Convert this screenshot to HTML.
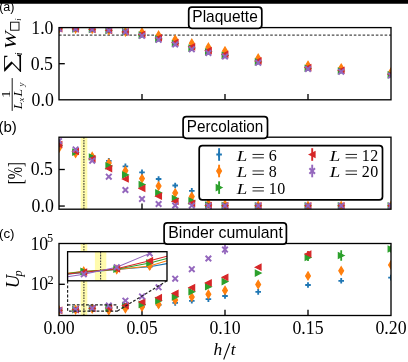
<!DOCTYPE html><html><head><meta charset="utf-8"><style>html,body{margin:0;padding:0;background:#fff;width:408px;height:362px;overflow:hidden}svg{display:block;will-change:transform}</style></head><body>
<svg width="408" height="362" viewBox="0 0 408 362">
<rect width="408" height="362" fill="#fff"/>
<defs>
<clipPath id="ca"><rect x="59.0" y="27.6" width="332.0" height="72.19999999999999"/></clipPath>
<clipPath id="cb"><rect x="59.0" y="137.2" width="332.0" height="72.0"/></clipPath>
<clipPath id="cc"><rect x="59.0" y="243.5" width="332.0" height="72.0"/></clipPath>
<clipPath id="ci"><rect x="67.6" y="251.7" width="99.4" height="29.100000000000023"/></clipPath>
</defs>
<line x1="59.0" y1="35.05" x2="391.0" y2="35.05" stroke="#4a4a4a" stroke-width="1.35" stroke-dasharray="2.6 1.8"/>
<line x1="142.00" y1="99.8" x2="142.00" y2="94.0" stroke="#000" stroke-width="1.33"/><line x1="225.00" y1="99.8" x2="225.00" y2="94.0" stroke="#000" stroke-width="1.33"/><line x1="308.00" y1="99.8" x2="308.00" y2="94.0" stroke="#000" stroke-width="1.33"/><line x1="59.0" y1="63.7" x2="64.8" y2="63.7" stroke="#000" stroke-width="1.33"/>
<g clip-path="url(#ca)">
<path d="M56.20 27.80H61.80M59.00 25.00V30.60" stroke="#1f77b4" stroke-width="1.84" fill="none"/>
<path d="M72.80 28.00H78.40M75.60 25.20V30.80" stroke="#1f77b4" stroke-width="1.84" fill="none"/>
<path d="M89.40 28.60H95.00M92.20 25.80V31.40" stroke="#1f77b4" stroke-width="1.84" fill="none"/>
<path d="M106.00 29.30H111.60M108.80 26.50V32.10" stroke="#1f77b4" stroke-width="1.84" fill="none"/>
<path d="M122.60 30.90H128.20M125.40 28.10V33.70" stroke="#1f77b4" stroke-width="1.84" fill="none"/>
<path d="M139.20 34.80H144.80M142.00 32.00V37.60" stroke="#1f77b4" stroke-width="1.84" fill="none"/>
<path d="M155.80 38.80H161.40M158.60 36.00V41.60" stroke="#1f77b4" stroke-width="1.84" fill="none"/>
<path d="M172.40 43.50H178.00M175.20 40.70V46.30" stroke="#1f77b4" stroke-width="1.84" fill="none"/>
<path d="M189.00 48.30H194.60M191.80 45.50V51.10" stroke="#1f77b4" stroke-width="1.84" fill="none"/>
<path d="M205.60 52.00H211.20M208.40 49.20V54.80" stroke="#1f77b4" stroke-width="1.84" fill="none"/>
<path d="M222.20 55.50H227.80M225.00 52.70V58.30" stroke="#1f77b4" stroke-width="1.84" fill="none"/>
<path d="M255.40 61.80H261.00M258.20 59.00V64.60" stroke="#1f77b4" stroke-width="1.84" fill="none"/>
<path d="M305.20 68.00H310.80M308.00 65.20V70.80" stroke="#1f77b4" stroke-width="1.84" fill="none"/>
<path d="M338.40 70.70H344.00M341.20 67.90V73.50" stroke="#1f77b4" stroke-width="1.84" fill="none"/>
<path d="M388.20 74.50H393.80M391.00 71.70V77.30" stroke="#1f77b4" stroke-width="1.84" fill="none"/>
<path d="M59.00 24.64L61.37 28.60L59.00 32.56L56.63 28.60Z" fill="#ff7f0e" stroke="#ff7f0e" stroke-width="1.28" stroke-linejoin="miter"/>
<path d="M75.60 24.84L77.97 28.80L75.60 32.76L73.23 28.80Z" fill="#ff7f0e" stroke="#ff7f0e" stroke-width="1.28" stroke-linejoin="miter"/>
<path d="M92.20 25.04L94.57 29.00L92.20 32.96L89.83 29.00Z" fill="#ff7f0e" stroke="#ff7f0e" stroke-width="1.28" stroke-linejoin="miter"/>
<path d="M108.80 26.34L111.17 30.30L108.80 34.26L106.43 30.30Z" fill="#ff7f0e" stroke="#ff7f0e" stroke-width="1.28" stroke-linejoin="miter"/>
<path d="M125.40 27.94L127.77 31.90L125.40 35.86L123.03 31.90Z" fill="#ff7f0e" stroke="#ff7f0e" stroke-width="1.28" stroke-linejoin="miter"/>
<path d="M142.00 28.34L144.37 32.30L142.00 36.26L139.63 32.30Z" fill="#ff7f0e" stroke="#ff7f0e" stroke-width="1.28" stroke-linejoin="miter"/>
<path d="M158.60 31.24L160.97 35.20L158.60 39.16L156.23 35.20Z" fill="#ff7f0e" stroke="#ff7f0e" stroke-width="1.28" stroke-linejoin="miter"/>
<path d="M175.20 35.54L177.57 39.50L175.20 43.46L172.83 39.50Z" fill="#ff7f0e" stroke="#ff7f0e" stroke-width="1.28" stroke-linejoin="miter"/>
<path d="M191.80 39.24L194.17 43.20L191.80 47.16L189.43 43.20Z" fill="#ff7f0e" stroke="#ff7f0e" stroke-width="1.28" stroke-linejoin="miter"/>
<path d="M208.40 43.24L210.77 47.20L208.40 51.16L206.03 47.20Z" fill="#ff7f0e" stroke="#ff7f0e" stroke-width="1.28" stroke-linejoin="miter"/>
<path d="M225.00 47.04L227.37 51.00L225.00 54.96L222.63 51.00Z" fill="#ff7f0e" stroke="#ff7f0e" stroke-width="1.28" stroke-linejoin="miter"/>
<path d="M258.20 54.24L260.57 58.20L258.20 62.16L255.83 58.20Z" fill="#ff7f0e" stroke="#ff7f0e" stroke-width="1.28" stroke-linejoin="miter"/>
<path d="M308.00 61.44L310.37 65.40L308.00 69.36L305.63 65.40Z" fill="#ff7f0e" stroke="#ff7f0e" stroke-width="1.28" stroke-linejoin="miter"/>
<path d="M341.20 64.14L343.57 68.10L341.20 72.06L338.83 68.10Z" fill="#ff7f0e" stroke="#ff7f0e" stroke-width="1.28" stroke-linejoin="miter"/>
<path d="M391.00 68.24L393.37 72.20L391.00 76.16L388.63 72.20Z" fill="#ff7f0e" stroke="#ff7f0e" stroke-width="1.28" stroke-linejoin="miter"/>
<path d="M61.80 28.76L56.20 25.96L56.20 31.56Z" fill="#2ca02c" stroke="#2ca02c" stroke-width="1.28" stroke-linejoin="miter"/>
<path d="M78.40 28.96L72.80 26.16L72.80 31.76Z" fill="#2ca02c" stroke="#2ca02c" stroke-width="1.28" stroke-linejoin="miter"/>
<path d="M95.00 29.48L89.40 26.68L89.40 32.28Z" fill="#2ca02c" stroke="#2ca02c" stroke-width="1.28" stroke-linejoin="miter"/>
<path d="M111.60 30.30L106.00 27.50L106.00 33.10Z" fill="#2ca02c" stroke="#2ca02c" stroke-width="1.28" stroke-linejoin="miter"/>
<path d="M128.20 31.90L122.60 29.10L122.60 34.70Z" fill="#2ca02c" stroke="#2ca02c" stroke-width="1.28" stroke-linejoin="miter"/>
<path d="M144.80 35.10L139.20 32.30L139.20 37.90Z" fill="#2ca02c" stroke="#2ca02c" stroke-width="1.28" stroke-linejoin="miter"/>
<path d="M161.40 38.88L155.80 36.08L155.80 41.68Z" fill="#2ca02c" stroke="#2ca02c" stroke-width="1.28" stroke-linejoin="miter"/>
<path d="M178.00 43.50L172.40 40.70L172.40 46.30Z" fill="#2ca02c" stroke="#2ca02c" stroke-width="1.28" stroke-linejoin="miter"/>
<path d="M194.60 48.08L189.00 45.28L189.00 50.88Z" fill="#2ca02c" stroke="#2ca02c" stroke-width="1.28" stroke-linejoin="miter"/>
<path d="M211.20 51.84L205.60 49.04L205.60 54.64Z" fill="#2ca02c" stroke="#2ca02c" stroke-width="1.28" stroke-linejoin="miter"/>
<path d="M227.80 55.40L222.20 52.60L222.20 58.20Z" fill="#2ca02c" stroke="#2ca02c" stroke-width="1.28" stroke-linejoin="miter"/>
<path d="M261.00 61.88L255.40 59.08L255.40 64.68Z" fill="#2ca02c" stroke="#2ca02c" stroke-width="1.28" stroke-linejoin="miter"/>
<path d="M310.80 68.28L305.20 65.48L305.20 71.08Z" fill="#2ca02c" stroke="#2ca02c" stroke-width="1.28" stroke-linejoin="miter"/>
<path d="M344.00 70.98L338.40 68.18L338.40 73.78Z" fill="#2ca02c" stroke="#2ca02c" stroke-width="1.28" stroke-linejoin="miter"/>
<path d="M393.80 74.84L388.20 72.04L388.20 77.64Z" fill="#2ca02c" stroke="#2ca02c" stroke-width="1.28" stroke-linejoin="miter"/>
<path d="M56.20 28.72L61.80 25.92L61.80 31.52Z" fill="#d62728" stroke="#d62728" stroke-width="1.28" stroke-linejoin="miter"/>
<path d="M72.80 28.92L78.40 26.12L78.40 31.72Z" fill="#d62728" stroke="#d62728" stroke-width="1.28" stroke-linejoin="miter"/>
<path d="M89.40 29.36L95.00 26.56L95.00 32.16Z" fill="#d62728" stroke="#d62728" stroke-width="1.28" stroke-linejoin="miter"/>
<path d="M106.00 30.30L111.60 27.50L111.60 33.10Z" fill="#d62728" stroke="#d62728" stroke-width="1.28" stroke-linejoin="miter"/>
<path d="M122.60 31.90L128.20 29.10L128.20 34.70Z" fill="#d62728" stroke="#d62728" stroke-width="1.28" stroke-linejoin="miter"/>
<path d="M139.20 34.40L144.80 31.60L144.80 37.20Z" fill="#d62728" stroke="#d62728" stroke-width="1.28" stroke-linejoin="miter"/>
<path d="M155.80 37.96L161.40 35.16L161.40 40.76Z" fill="#d62728" stroke="#d62728" stroke-width="1.28" stroke-linejoin="miter"/>
<path d="M172.40 42.50L178.00 39.70L178.00 45.30Z" fill="#d62728" stroke="#d62728" stroke-width="1.28" stroke-linejoin="miter"/>
<path d="M189.00 46.86L194.60 44.06L194.60 49.66Z" fill="#d62728" stroke="#d62728" stroke-width="1.28" stroke-linejoin="miter"/>
<path d="M205.60 50.68L211.20 47.88L211.20 53.48Z" fill="#d62728" stroke="#d62728" stroke-width="1.28" stroke-linejoin="miter"/>
<path d="M222.20 54.30L227.80 51.50L227.80 57.10Z" fill="#d62728" stroke="#d62728" stroke-width="1.28" stroke-linejoin="miter"/>
<path d="M255.40 60.96L261.00 58.16L261.00 63.76Z" fill="#d62728" stroke="#d62728" stroke-width="1.28" stroke-linejoin="miter"/>
<path d="M305.20 67.56L310.80 64.76L310.80 70.36Z" fill="#d62728" stroke="#d62728" stroke-width="1.28" stroke-linejoin="miter"/>
<path d="M338.40 70.26L344.00 67.46L344.00 73.06Z" fill="#d62728" stroke="#d62728" stroke-width="1.28" stroke-linejoin="miter"/>
<path d="M388.20 74.18L393.80 71.38L393.80 76.98Z" fill="#d62728" stroke="#d62728" stroke-width="1.28" stroke-linejoin="miter"/>
<path d="M56.20 26.00L61.80 31.60M56.20 31.60L61.80 26.00" stroke="#9467bd" stroke-width="1.92" fill="none"/>
<path d="M72.80 26.20L78.40 31.80M72.80 31.80L78.40 26.20" stroke="#9467bd" stroke-width="1.92" fill="none"/>
<path d="M89.40 26.80L95.00 32.40M89.40 32.40L95.00 26.80" stroke="#9467bd" stroke-width="1.92" fill="none"/>
<path d="M106.00 27.50L111.60 33.10M106.00 33.10L111.60 27.50" stroke="#9467bd" stroke-width="1.92" fill="none"/>
<path d="M122.60 29.10L128.20 34.70M122.60 34.70L128.20 29.10" stroke="#9467bd" stroke-width="1.92" fill="none"/>
<path d="M139.20 33.00L144.80 38.60M139.20 38.60L144.80 33.00" stroke="#9467bd" stroke-width="1.92" fill="none"/>
<path d="M155.80 37.00L161.40 42.60M155.80 42.60L161.40 37.00" stroke="#9467bd" stroke-width="1.92" fill="none"/>
<path d="M172.40 41.70L178.00 47.30M172.40 47.30L178.00 41.70" stroke="#9467bd" stroke-width="1.92" fill="none"/>
<path d="M189.00 46.50L194.60 52.10M189.00 52.10L194.60 46.50" stroke="#9467bd" stroke-width="1.92" fill="none"/>
<path d="M205.60 50.20L211.20 55.80M205.60 55.80L211.20 50.20" stroke="#9467bd" stroke-width="1.92" fill="none"/>
<path d="M222.20 53.70L227.80 59.30M222.20 59.30L227.80 53.70" stroke="#9467bd" stroke-width="1.92" fill="none"/>
<path d="M255.40 60.00L261.00 65.60M255.40 65.60L261.00 60.00" stroke="#9467bd" stroke-width="1.92" fill="none"/>
<path d="M305.20 66.20L310.80 71.80M305.20 71.80L310.80 66.20" stroke="#9467bd" stroke-width="1.92" fill="none"/>
<path d="M338.40 68.90L344.00 74.50M338.40 74.50L344.00 68.90" stroke="#9467bd" stroke-width="1.92" fill="none"/>
<path d="M388.20 72.70L393.80 78.30M388.20 78.30L393.80 72.70" stroke="#9467bd" stroke-width="1.92" fill="none"/>
</g>
<rect x="59.0" y="27.6" width="332.0" height="72.19999999999999" fill="none" stroke="#000" stroke-width="1.33"/>
<rect x="80.7" y="137.2" width="6.6" height="72.0" fill="#fffbad"/>
<line x1="83.9" y1="137.2" x2="83.9" y2="209.2" stroke="#4a4a3a" stroke-width="1.2" stroke-dasharray="1.6 1.1"/>
<line x1="142.00" y1="209.2" x2="142.00" y2="203.39999999999998" stroke="#000" stroke-width="1.33"/><line x1="225.00" y1="209.2" x2="225.00" y2="203.39999999999998" stroke="#000" stroke-width="1.33"/><line x1="308.00" y1="209.2" x2="308.00" y2="203.39999999999998" stroke="#000" stroke-width="1.33"/><line x1="59.0" y1="169.5" x2="64.8" y2="169.5" stroke="#000" stroke-width="1.33"/><line x1="59.0" y1="206.05" x2="64.8" y2="206.05" stroke="#000" stroke-width="1.33"/>
<g clip-path="url(#cb)">
<path d="M56.20 146.00H61.80M59.00 143.20V148.80" stroke="#1f77b4" stroke-width="1.84" fill="none"/>
<path d="M72.80 153.00H78.40M75.60 150.20V155.80" stroke="#1f77b4" stroke-width="1.84" fill="none"/>
<path d="M89.40 156.00H95.00M92.20 153.20V158.80" stroke="#1f77b4" stroke-width="1.84" fill="none"/>
<path d="M106.00 160.80H111.60M108.80 158.00V163.60" stroke="#1f77b4" stroke-width="1.84" fill="none"/>
<path d="M122.60 166.30H128.20M125.40 163.50V169.10" stroke="#1f77b4" stroke-width="1.84" fill="none"/>
<path d="M139.20 172.40H144.80M142.00 169.60V175.20" stroke="#1f77b4" stroke-width="1.84" fill="none"/>
<path d="M155.80 179.00H161.40M158.60 176.20V181.80" stroke="#1f77b4" stroke-width="1.84" fill="none"/>
<path d="M172.40 185.50H178.00M175.20 182.70V188.30" stroke="#1f77b4" stroke-width="1.84" fill="none"/>
<path d="M189.00 190.90H194.60M191.80 188.10V193.70" stroke="#1f77b4" stroke-width="1.84" fill="none"/>
<path d="M205.60 197.00H211.20M208.40 194.20V199.80" stroke="#1f77b4" stroke-width="1.84" fill="none"/>
<path d="M222.20 197.00H227.80M225.00 194.20V199.80" stroke="#1f77b4" stroke-width="1.84" fill="none"/>
<path d="M255.40 205.00H261.00M258.20 202.20V207.80" stroke="#1f77b4" stroke-width="1.84" fill="none"/>
<path d="M305.20 205.80H310.80M308.00 203.00V208.60" stroke="#1f77b4" stroke-width="1.84" fill="none"/>
<path d="M338.40 205.80H344.00M341.20 203.00V208.60" stroke="#1f77b4" stroke-width="1.84" fill="none"/>
<path d="M388.20 205.80H393.80M391.00 203.00V208.60" stroke="#1f77b4" stroke-width="1.84" fill="none"/>
<path d="M59.00 144.04L61.37 148.00L59.00 151.96L56.63 148.00Z" fill="#ff7f0e" stroke="#ff7f0e" stroke-width="1.28" stroke-linejoin="miter"/>
<path d="M75.60 149.44L77.97 153.40L75.60 157.36L73.23 153.40Z" fill="#ff7f0e" stroke="#ff7f0e" stroke-width="1.28" stroke-linejoin="miter"/>
<path d="M92.20 152.54L94.57 156.50L92.20 160.46L89.83 156.50Z" fill="#ff7f0e" stroke="#ff7f0e" stroke-width="1.28" stroke-linejoin="miter"/>
<path d="M108.80 159.14L111.17 163.10L108.80 167.06L106.43 163.10Z" fill="#ff7f0e" stroke="#ff7f0e" stroke-width="1.28" stroke-linejoin="miter"/>
<path d="M125.40 166.74L127.77 170.70L125.40 174.66L123.03 170.70Z" fill="#ff7f0e" stroke="#ff7f0e" stroke-width="1.28" stroke-linejoin="miter"/>
<path d="M142.00 174.64L144.37 178.60L142.00 182.56L139.63 178.60Z" fill="#ff7f0e" stroke="#ff7f0e" stroke-width="1.28" stroke-linejoin="miter"/>
<path d="M158.60 182.04L160.97 186.00L158.60 189.96L156.23 186.00Z" fill="#ff7f0e" stroke="#ff7f0e" stroke-width="1.28" stroke-linejoin="miter"/>
<path d="M175.20 188.94L177.57 192.90L175.20 196.86L172.83 192.90Z" fill="#ff7f0e" stroke="#ff7f0e" stroke-width="1.28" stroke-linejoin="miter"/>
<path d="M191.80 192.54L194.17 196.50L191.80 200.46L189.43 196.50Z" fill="#ff7f0e" stroke="#ff7f0e" stroke-width="1.28" stroke-linejoin="miter"/>
<path d="M208.40 199.54L210.77 203.50L208.40 207.46L206.03 203.50Z" fill="#ff7f0e" stroke="#ff7f0e" stroke-width="1.28" stroke-linejoin="miter"/>
<path d="M225.00 200.54L227.37 204.50L225.00 208.46L222.63 204.50Z" fill="#ff7f0e" stroke="#ff7f0e" stroke-width="1.28" stroke-linejoin="miter"/>
<path d="M258.20 201.54L260.57 205.50L258.20 209.46L255.83 205.50Z" fill="#ff7f0e" stroke="#ff7f0e" stroke-width="1.28" stroke-linejoin="miter"/>
<path d="M308.00 201.84L310.37 205.80L308.00 209.76L305.63 205.80Z" fill="#ff7f0e" stroke="#ff7f0e" stroke-width="1.28" stroke-linejoin="miter"/>
<path d="M341.20 201.84L343.57 205.80L341.20 209.76L338.83 205.80Z" fill="#ff7f0e" stroke="#ff7f0e" stroke-width="1.28" stroke-linejoin="miter"/>
<path d="M391.00 201.84L393.37 205.80L391.00 209.76L388.63 205.80Z" fill="#ff7f0e" stroke="#ff7f0e" stroke-width="1.28" stroke-linejoin="miter"/>
<path d="M61.80 145.50L56.20 142.70L56.20 148.30Z" fill="#2ca02c" stroke="#2ca02c" stroke-width="1.28" stroke-linejoin="miter"/>
<path d="M78.40 152.20L72.80 149.40L72.80 155.00Z" fill="#2ca02c" stroke="#2ca02c" stroke-width="1.28" stroke-linejoin="miter"/>
<path d="M95.00 157.00L89.40 154.20L89.40 159.80Z" fill="#2ca02c" stroke="#2ca02c" stroke-width="1.28" stroke-linejoin="miter"/>
<path d="M111.60 165.90L106.00 163.10L106.00 168.70Z" fill="#2ca02c" stroke="#2ca02c" stroke-width="1.28" stroke-linejoin="miter"/>
<path d="M128.20 174.90L122.60 172.10L122.60 177.70Z" fill="#2ca02c" stroke="#2ca02c" stroke-width="1.28" stroke-linejoin="miter"/>
<path d="M144.80 184.50L139.20 181.70L139.20 187.30Z" fill="#2ca02c" stroke="#2ca02c" stroke-width="1.28" stroke-linejoin="miter"/>
<path d="M161.40 192.90L155.80 190.10L155.80 195.70Z" fill="#2ca02c" stroke="#2ca02c" stroke-width="1.28" stroke-linejoin="miter"/>
<path d="M178.00 198.50L172.40 195.70L172.40 201.30Z" fill="#2ca02c" stroke="#2ca02c" stroke-width="1.28" stroke-linejoin="miter"/>
<path d="M194.60 200.90L189.00 198.10L189.00 203.70Z" fill="#2ca02c" stroke="#2ca02c" stroke-width="1.28" stroke-linejoin="miter"/>
<path d="M211.20 205.00L205.60 202.20L205.60 207.80Z" fill="#2ca02c" stroke="#2ca02c" stroke-width="1.28" stroke-linejoin="miter"/>
<path d="M227.80 205.50L222.20 202.70L222.20 208.30Z" fill="#2ca02c" stroke="#2ca02c" stroke-width="1.28" stroke-linejoin="miter"/>
<path d="M261.00 205.80L255.40 203.00L255.40 208.60Z" fill="#2ca02c" stroke="#2ca02c" stroke-width="1.28" stroke-linejoin="miter"/>
<path d="M310.80 205.80L305.20 203.00L305.20 208.60Z" fill="#2ca02c" stroke="#2ca02c" stroke-width="1.28" stroke-linejoin="miter"/>
<path d="M344.00 205.80L338.40 203.00L338.40 208.60Z" fill="#2ca02c" stroke="#2ca02c" stroke-width="1.28" stroke-linejoin="miter"/>
<path d="M393.80 205.80L388.20 203.00L388.20 208.60Z" fill="#2ca02c" stroke="#2ca02c" stroke-width="1.28" stroke-linejoin="miter"/>
<path d="M56.20 144.50L61.80 141.70L61.80 147.30Z" fill="#d62728" stroke="#d62728" stroke-width="1.28" stroke-linejoin="miter"/>
<path d="M72.80 151.40L78.40 148.60L78.40 154.20Z" fill="#d62728" stroke="#d62728" stroke-width="1.28" stroke-linejoin="miter"/>
<path d="M89.40 158.90L95.00 156.10L95.00 161.70Z" fill="#d62728" stroke="#d62728" stroke-width="1.28" stroke-linejoin="miter"/>
<path d="M106.00 168.60L111.60 165.80L111.60 171.40Z" fill="#d62728" stroke="#d62728" stroke-width="1.28" stroke-linejoin="miter"/>
<path d="M122.60 179.00L128.20 176.20L128.20 181.80Z" fill="#d62728" stroke="#d62728" stroke-width="1.28" stroke-linejoin="miter"/>
<path d="M139.20 188.40L144.80 185.60L144.80 191.20Z" fill="#d62728" stroke="#d62728" stroke-width="1.28" stroke-linejoin="miter"/>
<path d="M155.80 196.20L161.40 193.40L161.40 199.00Z" fill="#d62728" stroke="#d62728" stroke-width="1.28" stroke-linejoin="miter"/>
<path d="M172.40 201.40L178.00 198.60L178.00 204.20Z" fill="#d62728" stroke="#d62728" stroke-width="1.28" stroke-linejoin="miter"/>
<path d="M189.00 203.40L194.60 200.60L194.60 206.20Z" fill="#d62728" stroke="#d62728" stroke-width="1.28" stroke-linejoin="miter"/>
<path d="M205.60 205.50L211.20 202.70L211.20 208.30Z" fill="#d62728" stroke="#d62728" stroke-width="1.28" stroke-linejoin="miter"/>
<path d="M222.20 205.70L227.80 202.90L227.80 208.50Z" fill="#d62728" stroke="#d62728" stroke-width="1.28" stroke-linejoin="miter"/>
<path d="M255.40 205.80L261.00 203.00L261.00 208.60Z" fill="#d62728" stroke="#d62728" stroke-width="1.28" stroke-linejoin="miter"/>
<path d="M305.20 205.80L310.80 203.00L310.80 208.60Z" fill="#d62728" stroke="#d62728" stroke-width="1.28" stroke-linejoin="miter"/>
<path d="M338.40 205.80L344.00 203.00L344.00 208.60Z" fill="#d62728" stroke="#d62728" stroke-width="1.28" stroke-linejoin="miter"/>
<path d="M388.20 205.80L393.80 203.00L393.80 208.60Z" fill="#d62728" stroke="#d62728" stroke-width="1.28" stroke-linejoin="miter"/>
<path d="M56.20 138.20L61.80 143.80M56.20 143.80L61.80 138.20" stroke="#9467bd" stroke-width="1.92" fill="none"/>
<path d="M72.80 146.60L78.40 152.20M72.80 152.20L78.40 146.60" stroke="#9467bd" stroke-width="1.92" fill="none"/>
<path d="M89.40 157.90L95.00 163.50M89.40 163.50L95.00 157.90" stroke="#9467bd" stroke-width="1.92" fill="none"/>
<path d="M106.00 173.90L111.60 179.50M106.00 179.50L111.60 173.90" stroke="#9467bd" stroke-width="1.92" fill="none"/>
<path d="M122.60 187.20L128.20 192.80M122.60 192.80L128.20 187.20" stroke="#9467bd" stroke-width="1.92" fill="none"/>
<path d="M139.20 196.20L144.80 201.80M139.20 201.80L144.80 196.20" stroke="#9467bd" stroke-width="1.92" fill="none"/>
<path d="M155.80 201.20L161.40 206.80M155.80 206.80L161.40 201.20" stroke="#9467bd" stroke-width="1.92" fill="none"/>
<path d="M172.40 202.70L178.00 208.30M172.40 208.30L178.00 202.70" stroke="#9467bd" stroke-width="1.92" fill="none"/>
<path d="M189.00 202.80L194.60 208.40M189.00 208.40L194.60 202.80" stroke="#9467bd" stroke-width="1.92" fill="none"/>
<path d="M205.60 203.00L211.20 208.60M205.60 208.60L211.20 203.00" stroke="#9467bd" stroke-width="1.92" fill="none"/>
<path d="M222.20 203.00L227.80 208.60M222.20 208.60L227.80 203.00" stroke="#9467bd" stroke-width="1.92" fill="none"/>
<path d="M255.40 203.00L261.00 208.60M255.40 208.60L261.00 203.00" stroke="#9467bd" stroke-width="1.92" fill="none"/>
<path d="M305.20 203.00L310.80 208.60M305.20 208.60L310.80 203.00" stroke="#9467bd" stroke-width="1.92" fill="none"/>
<path d="M338.40 203.00L344.00 208.60M338.40 208.60L344.00 203.00" stroke="#9467bd" stroke-width="1.92" fill="none"/>
<path d="M388.20 203.00L393.80 208.60M388.20 208.60L393.80 203.00" stroke="#9467bd" stroke-width="1.92" fill="none"/>
</g>
<rect x="59.0" y="137.2" width="332.0" height="72.0" fill="none" stroke="#000" stroke-width="1.33"/>
<rect x="80.7" y="243.5" width="6.6" height="72.0" fill="#fffbad"/>
<line x1="83.9" y1="243.5" x2="83.9" y2="315.5" stroke="#4a4a3a" stroke-width="1.2" stroke-dasharray="1.6 1.1"/>
<line x1="142.00" y1="315.5" x2="142.00" y2="309.7" stroke="#000" stroke-width="1.33"/><line x1="225.00" y1="315.5" x2="225.00" y2="309.7" stroke="#000" stroke-width="1.33"/><line x1="308.00" y1="315.5" x2="308.00" y2="309.7" stroke="#000" stroke-width="1.33"/><line x1="59.0" y1="284.3" x2="64.8" y2="284.3" stroke="#000" stroke-width="1.33"/>
<g clip-path="url(#cc)">
<line x1="225.00" y1="245.0" x2="225.00" y2="254.2" stroke="#9467bd" stroke-width="1.8"/>
<line x1="308.00" y1="254.0" x2="308.00" y2="261.0" stroke="#2ca02c" stroke-width="1.8"/>
<line x1="308.00" y1="251.0" x2="308.00" y2="257.0" stroke="#d62728" stroke-width="1.8"/>
<line x1="341.20" y1="250.3" x2="341.20" y2="260.7" stroke="#2ca02c" stroke-width="1.8"/>
<line x1="391.00" y1="245.4" x2="391.00" y2="252.6" stroke="#2ca02c" stroke-width="1.8"/>
<path d="M56.20 310.30H61.80M59.00 307.50V313.10" stroke="#1f77b4" stroke-width="1.84" fill="none"/>
<path d="M72.80 309.80H78.40M75.60 307.00V312.60" stroke="#1f77b4" stroke-width="1.84" fill="none"/>
<path d="M89.40 308.60H95.00M92.20 305.80V311.40" stroke="#1f77b4" stroke-width="1.84" fill="none"/>
<path d="M106.00 309.50H111.60M108.80 306.70V312.30" stroke="#1f77b4" stroke-width="1.84" fill="none"/>
<path d="M122.60 307.50H128.20M125.40 304.70V310.30" stroke="#1f77b4" stroke-width="1.84" fill="none"/>
<path d="M139.20 306.50H144.80M142.00 303.70V309.30" stroke="#1f77b4" stroke-width="1.84" fill="none"/>
<path d="M155.80 305.00H161.40M158.60 302.20V307.80" stroke="#1f77b4" stroke-width="1.84" fill="none"/>
<path d="M172.40 302.90H178.00M175.20 300.10V305.70" stroke="#1f77b4" stroke-width="1.84" fill="none"/>
<path d="M189.00 300.80H194.60M191.80 298.00V303.60" stroke="#1f77b4" stroke-width="1.84" fill="none"/>
<path d="M205.60 299.20H211.20M208.40 296.40V302.00" stroke="#1f77b4" stroke-width="1.84" fill="none"/>
<path d="M222.20 296.00H227.80M225.00 293.20V298.80" stroke="#1f77b4" stroke-width="1.84" fill="none"/>
<path d="M255.40 291.90H261.00M258.20 289.10V294.70" stroke="#1f77b4" stroke-width="1.84" fill="none"/>
<path d="M305.20 285.00H310.80M308.00 282.20V287.80" stroke="#1f77b4" stroke-width="1.84" fill="none"/>
<path d="M338.40 280.80H344.00M341.20 278.00V283.60" stroke="#1f77b4" stroke-width="1.84" fill="none"/>
<path d="M388.20 277.60H393.80M391.00 274.80V280.40" stroke="#1f77b4" stroke-width="1.84" fill="none"/>
<path d="M59.00 306.34L61.37 310.30L59.00 314.26L56.63 310.30Z" fill="#ff7f0e" stroke="#ff7f0e" stroke-width="1.28" stroke-linejoin="miter"/>
<path d="M75.60 305.84L77.97 309.80L75.60 313.76L73.23 309.80Z" fill="#ff7f0e" stroke="#ff7f0e" stroke-width="1.28" stroke-linejoin="miter"/>
<path d="M92.20 304.84L94.57 308.80L92.20 312.76L89.83 308.80Z" fill="#ff7f0e" stroke="#ff7f0e" stroke-width="1.28" stroke-linejoin="miter"/>
<path d="M108.80 306.54L111.17 310.50L108.80 314.46L106.43 310.50Z" fill="#ff7f0e" stroke="#ff7f0e" stroke-width="1.28" stroke-linejoin="miter"/>
<path d="M125.40 304.54L127.77 308.50L125.40 312.46L123.03 308.50Z" fill="#ff7f0e" stroke="#ff7f0e" stroke-width="1.28" stroke-linejoin="miter"/>
<path d="M142.00 302.94L144.37 306.90L142.00 310.86L139.63 306.90Z" fill="#ff7f0e" stroke="#ff7f0e" stroke-width="1.28" stroke-linejoin="miter"/>
<path d="M158.60 300.44L160.97 304.40L158.60 308.36L156.23 304.40Z" fill="#ff7f0e" stroke="#ff7f0e" stroke-width="1.28" stroke-linejoin="miter"/>
<path d="M175.20 296.14L177.57 300.10L175.20 304.06L172.83 300.10Z" fill="#ff7f0e" stroke="#ff7f0e" stroke-width="1.28" stroke-linejoin="miter"/>
<path d="M191.80 293.04L194.17 297.00L191.80 300.96L189.43 297.00Z" fill="#ff7f0e" stroke="#ff7f0e" stroke-width="1.28" stroke-linejoin="miter"/>
<path d="M208.40 290.24L210.77 294.20L208.40 298.16L206.03 294.20Z" fill="#ff7f0e" stroke="#ff7f0e" stroke-width="1.28" stroke-linejoin="miter"/>
<path d="M225.00 286.44L227.37 290.40L225.00 294.36L222.63 290.40Z" fill="#ff7f0e" stroke="#ff7f0e" stroke-width="1.28" stroke-linejoin="miter"/>
<path d="M258.20 280.54L260.57 284.50L258.20 288.46L255.83 284.50Z" fill="#ff7f0e" stroke="#ff7f0e" stroke-width="1.28" stroke-linejoin="miter"/>
<path d="M308.00 271.94L310.37 275.90L308.00 279.86L305.63 275.90Z" fill="#ff7f0e" stroke="#ff7f0e" stroke-width="1.28" stroke-linejoin="miter"/>
<path d="M341.20 266.74L343.57 270.70L341.20 274.66L338.83 270.70Z" fill="#ff7f0e" stroke="#ff7f0e" stroke-width="1.28" stroke-linejoin="miter"/>
<path d="M391.00 260.94L393.37 264.90L391.00 268.86L388.63 264.90Z" fill="#ff7f0e" stroke="#ff7f0e" stroke-width="1.28" stroke-linejoin="miter"/>
<path d="M61.80 310.30L56.20 307.50L56.20 313.10Z" fill="#2ca02c" stroke="#2ca02c" stroke-width="1.28" stroke-linejoin="miter"/>
<path d="M78.40 309.60L72.80 306.80L72.80 312.40Z" fill="#2ca02c" stroke="#2ca02c" stroke-width="1.28" stroke-linejoin="miter"/>
<path d="M95.00 308.40L89.40 305.60L89.40 311.20Z" fill="#2ca02c" stroke="#2ca02c" stroke-width="1.28" stroke-linejoin="miter"/>
<path d="M111.60 308.00L106.00 305.20L106.00 310.80Z" fill="#2ca02c" stroke="#2ca02c" stroke-width="1.28" stroke-linejoin="miter"/>
<path d="M128.20 305.30L122.60 302.50L122.60 308.10Z" fill="#2ca02c" stroke="#2ca02c" stroke-width="1.28" stroke-linejoin="miter"/>
<path d="M144.80 304.40L139.20 301.60L139.20 307.20Z" fill="#2ca02c" stroke="#2ca02c" stroke-width="1.28" stroke-linejoin="miter"/>
<path d="M161.40 300.70L155.80 297.90L155.80 303.50Z" fill="#2ca02c" stroke="#2ca02c" stroke-width="1.28" stroke-linejoin="miter"/>
<path d="M178.00 296.80L172.40 294.00L172.40 299.60Z" fill="#2ca02c" stroke="#2ca02c" stroke-width="1.28" stroke-linejoin="miter"/>
<path d="M194.60 291.70L189.00 288.90L189.00 294.50Z" fill="#2ca02c" stroke="#2ca02c" stroke-width="1.28" stroke-linejoin="miter"/>
<path d="M211.20 286.70L205.60 283.90L205.60 289.50Z" fill="#2ca02c" stroke="#2ca02c" stroke-width="1.28" stroke-linejoin="miter"/>
<path d="M227.80 281.60L222.20 278.80L222.20 284.40Z" fill="#2ca02c" stroke="#2ca02c" stroke-width="1.28" stroke-linejoin="miter"/>
<path d="M261.00 273.10L255.40 270.30L255.40 275.90Z" fill="#2ca02c" stroke="#2ca02c" stroke-width="1.28" stroke-linejoin="miter"/>
<path d="M310.80 257.50L305.20 254.70L305.20 260.30Z" fill="#2ca02c" stroke="#2ca02c" stroke-width="1.28" stroke-linejoin="miter"/>
<path d="M344.00 255.50L338.40 252.70L338.40 258.30Z" fill="#2ca02c" stroke="#2ca02c" stroke-width="1.28" stroke-linejoin="miter"/>
<path d="M393.80 249.00L388.20 246.20L388.20 251.80Z" fill="#2ca02c" stroke="#2ca02c" stroke-width="1.28" stroke-linejoin="miter"/>
<path d="M56.20 310.30L61.80 307.50L61.80 313.10Z" fill="#d62728" stroke="#d62728" stroke-width="1.28" stroke-linejoin="miter"/>
<path d="M72.80 309.60L78.40 306.80L78.40 312.40Z" fill="#d62728" stroke="#d62728" stroke-width="1.28" stroke-linejoin="miter"/>
<path d="M89.40 308.30L95.00 305.50L95.00 311.10Z" fill="#d62728" stroke="#d62728" stroke-width="1.28" stroke-linejoin="miter"/>
<path d="M106.00 308.00L111.60 305.20L111.60 310.80Z" fill="#d62728" stroke="#d62728" stroke-width="1.28" stroke-linejoin="miter"/>
<path d="M122.60 305.60L128.20 302.80L128.20 308.40Z" fill="#d62728" stroke="#d62728" stroke-width="1.28" stroke-linejoin="miter"/>
<path d="M139.20 302.00L144.80 299.20L144.80 304.80Z" fill="#d62728" stroke="#d62728" stroke-width="1.28" stroke-linejoin="miter"/>
<path d="M155.80 297.70L161.40 294.90L161.40 300.50Z" fill="#d62728" stroke="#d62728" stroke-width="1.28" stroke-linejoin="miter"/>
<path d="M172.40 293.40L178.00 290.60L178.00 296.20Z" fill="#d62728" stroke="#d62728" stroke-width="1.28" stroke-linejoin="miter"/>
<path d="M189.00 287.60L194.60 284.80L194.60 290.40Z" fill="#d62728" stroke="#d62728" stroke-width="1.28" stroke-linejoin="miter"/>
<path d="M205.60 282.90L211.20 280.10L211.20 285.70Z" fill="#d62728" stroke="#d62728" stroke-width="1.28" stroke-linejoin="miter"/>
<path d="M222.20 277.30L227.80 274.50L227.80 280.10Z" fill="#d62728" stroke="#d62728" stroke-width="1.28" stroke-linejoin="miter"/>
<path d="M255.40 267.20L261.00 264.40L261.00 270.00Z" fill="#d62728" stroke="#d62728" stroke-width="1.28" stroke-linejoin="miter"/>
<path d="M305.20 254.00L310.80 251.20L310.80 256.80Z" fill="#d62728" stroke="#d62728" stroke-width="1.28" stroke-linejoin="miter"/>
<path d="M56.20 307.50L61.80 313.10M56.20 313.10L61.80 307.50" stroke="#9467bd" stroke-width="1.92" fill="none"/>
<path d="M72.80 306.80L78.40 312.40M72.80 312.40L78.40 306.80" stroke="#9467bd" stroke-width="1.92" fill="none"/>
<path d="M89.40 305.50L95.00 311.10M89.40 311.10L95.00 305.50" stroke="#9467bd" stroke-width="1.92" fill="none"/>
<path d="M106.00 302.80L111.60 308.40M106.00 308.40L111.60 302.80" stroke="#9467bd" stroke-width="1.92" fill="none"/>
<path d="M122.60 297.90L128.20 303.50M122.60 303.50L128.20 297.90" stroke="#9467bd" stroke-width="1.92" fill="none"/>
<path d="M139.20 293.60L144.80 299.20M139.20 299.20L144.80 293.60" stroke="#9467bd" stroke-width="1.92" fill="none"/>
<path d="M155.80 284.50L161.40 290.10M155.80 290.10L161.40 284.50" stroke="#9467bd" stroke-width="1.92" fill="none"/>
<path d="M172.40 275.90L178.00 281.50M172.40 281.50L178.00 275.90" stroke="#9467bd" stroke-width="1.92" fill="none"/>
<path d="M189.00 266.40L194.60 272.00M189.00 272.00L194.60 266.40" stroke="#9467bd" stroke-width="1.92" fill="none"/>
<path d="M205.60 255.70L211.20 261.30M205.60 261.30L211.20 255.70" stroke="#9467bd" stroke-width="1.92" fill="none"/>
<path d="M222.20 246.80L227.80 252.40M222.20 252.40L227.80 246.80" stroke="#9467bd" stroke-width="1.92" fill="none"/>
</g>
<path d="M67.6 304.9H117.2V311.1H67.6Z" fill="none" stroke="#222" stroke-width="1.2" stroke-dasharray="2.8 1.8"/>
<path d="M67.6 280.8V304.9M167.0 280.8L117.2 311.1" fill="none" stroke="#222" stroke-width="1.2" stroke-dasharray="2.8 1.8"/>
<rect x="59.0" y="243.5" width="332.0" height="72.0" fill="none" stroke="#000" stroke-width="1.33"/>
<rect x="67.6" y="251.7" width="99.4" height="29.100000000000023" fill="#fff"/>
<rect x="94.9" y="251.7" width="11.4" height="29.100000000000023" fill="#fffbad"/>
<line x1="100.6" y1="251.7" x2="100.6" y2="280.8" stroke="#444" stroke-width="1.1" stroke-dasharray="1.8 1.1"/>
<g clip-path="url(#ci)">
<polyline points="67.6,274.2 83.8,272.5 116.7,269.4 149.7,266.8 167.0,263.6" fill="none" stroke="#1f77b4" stroke-width="1.05"/>
<polyline points="67.6,273.2 83.8,271.3 116.7,269.6 149.7,265.9 167.0,260.7" fill="none" stroke="#ff7f0e" stroke-width="1.05"/>
<polyline points="67.6,273.6 83.8,271.4 116.7,269.2 149.7,262.9 167.0,258.5" fill="none" stroke="#2ca02c" stroke-width="1.05"/>
<polyline points="67.6,274.0 83.8,272.2 116.7,268.8 149.7,260.7 167.0,256.3" fill="none" stroke="#d62728" stroke-width="1.05"/>
<polyline points="67.6,276.8 83.8,274.3 116.7,267.2 149.7,253.4 167.0,238.0" fill="none" stroke="#9467bd" stroke-width="1.05"/>
<path d="M80.96 272.50H86.56M83.76 269.70V275.30" stroke="#1f77b4" stroke-width="1.84" fill="none"/>
<path d="M113.93 269.40H119.53M116.73 266.60V272.20" stroke="#1f77b4" stroke-width="1.84" fill="none"/>
<path d="M146.90 266.80H152.50M149.70 264.00V269.60" stroke="#1f77b4" stroke-width="1.84" fill="none"/>
<path d="M83.76 267.34L86.13 271.30L83.76 275.26L81.38 271.30Z" fill="#ff7f0e" stroke="#ff7f0e" stroke-width="1.28" stroke-linejoin="miter"/>
<path d="M116.73 265.64L119.10 269.60L116.73 273.56L114.35 269.60Z" fill="#ff7f0e" stroke="#ff7f0e" stroke-width="1.28" stroke-linejoin="miter"/>
<path d="M149.70 261.94L152.07 265.90L149.70 269.86L147.32 265.90Z" fill="#ff7f0e" stroke="#ff7f0e" stroke-width="1.28" stroke-linejoin="miter"/>
<path d="M86.56 271.40L80.96 268.60L80.96 274.20Z" fill="#2ca02c" stroke="#2ca02c" stroke-width="1.28" stroke-linejoin="miter"/>
<path d="M119.53 269.20L113.93 266.40L113.93 272.00Z" fill="#2ca02c" stroke="#2ca02c" stroke-width="1.28" stroke-linejoin="miter"/>
<path d="M152.50 262.90L146.90 260.10L146.90 265.70Z" fill="#2ca02c" stroke="#2ca02c" stroke-width="1.28" stroke-linejoin="miter"/>
<path d="M80.96 272.20L86.56 269.40L86.56 275.00Z" fill="#d62728" stroke="#d62728" stroke-width="1.28" stroke-linejoin="miter"/>
<path d="M113.93 268.80L119.53 266.00L119.53 271.60Z" fill="#d62728" stroke="#d62728" stroke-width="1.28" stroke-linejoin="miter"/>
<path d="M146.90 260.70L152.50 257.90L152.50 263.50Z" fill="#d62728" stroke="#d62728" stroke-width="1.28" stroke-linejoin="miter"/>
<path d="M80.96 271.50L86.56 277.10M80.96 277.10L86.56 271.50" stroke="#9467bd" stroke-width="1.92" fill="none"/>
<path d="M113.93 264.40L119.53 270.00M113.93 270.00L119.53 264.40" stroke="#9467bd" stroke-width="1.92" fill="none"/>
<path d="M146.90 250.60L152.50 256.20M146.90 256.20L152.50 250.60" stroke="#9467bd" stroke-width="1.92" fill="none"/>
</g>
<rect x="67.6" y="251.7" width="99.4" height="29.100000000000023" fill="none" stroke="#000" stroke-width="1.33"/>
<text x="53.5" y="34.0" font-family='"Liberation Serif", serif' font-size="17.8" text-anchor="end" >1.0</text>
<text x="53.0" y="69.6" font-family='"Liberation Serif", serif' font-size="17.8" text-anchor="end" >0.5</text>
<text x="53.8" y="106.0" font-family='"Liberation Serif", serif' font-size="17.8" text-anchor="end" >0.0</text>
<text x="53.0" y="175.0" font-family='"Liberation Serif", serif' font-size="17.8" text-anchor="end" >0.5</text>
<text x="53.8" y="211.9" font-family='"Liberation Serif", serif' font-size="17.8" text-anchor="end" >0.0</text>
<text x="30.4" y="249.8" font-family='"Liberation Serif", serif' font-size="17.8" text-anchor="start" >10</text>
<text x="47.0" y="242.4" font-family='"Liberation Serif", serif' font-size="12.25" text-anchor="start" >5</text>
<text x="30.4" y="290.2" font-family='"Liberation Serif", serif' font-size="17.8" text-anchor="start" >10</text>
<text x="47.4" y="283.8" font-family='"Liberation Serif", serif' font-size="12.25" text-anchor="start" >2</text>
<text x="59.0" y="333.8" font-family='"Liberation Serif", serif' font-size="17.8" text-anchor="middle" >0.00</text>
<text x="142.0" y="333.8" font-family='"Liberation Serif", serif' font-size="17.8" text-anchor="middle" >0.05</text>
<text x="225.0" y="333.8" font-family='"Liberation Serif", serif' font-size="17.8" text-anchor="middle" >0.10</text>
<text x="308.0" y="333.8" font-family='"Liberation Serif", serif' font-size="17.8" text-anchor="middle" >0.15</text>
<text x="391.0" y="333.8" font-family='"Liberation Serif", serif' font-size="17.8" text-anchor="middle" >0.20</text>
<text x="213.6" y="355.4" font-family='"Liberation Serif", serif' font-size="17.5" font-style="italic">h</text>
<line x1="229.8" y1="343.3" x2="223.7" y2="359.5" stroke="#000" stroke-width="1.05"/>
<text x="230.8" y="355.3" font-family='"Liberation Serif", serif' font-size="17.5" font-style="italic">t</text>
<rect x="188.7" y="7.2" width="73.1" height="21.1" rx="3.2" fill="#fff" stroke="#000" stroke-width="1.7"/><text x="192.3" y="22.2" font-family='"Liberation Sans", sans-serif' font-size="16.4" textLength="65.5" lengthAdjust="spacingAndGlyphs">Plaquette</text>
<rect x="183.1" y="116.7" width="84.4" height="21.6" rx="3.2" fill="#fff" stroke="#000" stroke-width="1.7"/><text x="186.8" y="131.6" font-family='"Liberation Sans", sans-serif' font-size="16.4" textLength="76.5" lengthAdjust="spacingAndGlyphs">Percolation</text>
<rect x="164.1" y="222.9" width="122.3" height="21.2" rx="3.2" fill="#fff" stroke="#000" stroke-width="1.7"/><text x="168.3" y="237.6" font-family='"Liberation Sans", sans-serif' font-size="16.4" textLength="114.5" lengthAdjust="spacingAndGlyphs">Binder cumulant</text>
<rect x="199.2" y="145.6" width="183.3" height="54.3" rx="3.2" fill="#fff" stroke="#000" stroke-width="1.7"/>
<line x1="219.1" y1="148.2" x2="219.1" y2="160.8" stroke="#1f77b4" stroke-width="1.9"/>
<path d="M216.30 154.50H221.90M219.10 151.70V157.30" stroke="#1f77b4" stroke-width="1.84" fill="none"/>
<text transform="translate(236.7,160.6) scale(1.22,1)" font-family='"Liberation Serif", serif' font-size="15.5" font-style="italic">L</text>
<path d="M252.5 154.45H263.9M252.5 157.85H263.9" stroke="#000" stroke-width="0.85"/>
<text x="268.7" y="160.6" font-family='"Liberation Serif", serif' font-size="16" letter-spacing="0.5">6</text>
<line x1="219.1" y1="164.7" x2="219.1" y2="177.3" stroke="#ff7f0e" stroke-width="1.9"/>
<path d="M219.10 167.04L221.47 171.00L219.10 174.96L216.73 171.00Z" fill="#ff7f0e" stroke="#ff7f0e" stroke-width="1.28" stroke-linejoin="miter"/>
<text transform="translate(236.7,177.1) scale(1.22,1)" font-family='"Liberation Serif", serif' font-size="15.5" font-style="italic">L</text>
<path d="M252.5 170.95H263.9M252.5 174.35H263.9" stroke="#000" stroke-width="0.85"/>
<text x="268.7" y="177.1" font-family='"Liberation Serif", serif' font-size="16" letter-spacing="0.5">8</text>
<line x1="219.1" y1="181.29999999999998" x2="219.1" y2="193.9" stroke="#2ca02c" stroke-width="1.9"/>
<path d="M221.90 187.60L216.30 184.80L216.30 190.40Z" fill="#2ca02c" stroke="#2ca02c" stroke-width="1.28" stroke-linejoin="miter"/>
<text transform="translate(236.7,193.7) scale(1.22,1)" font-family='"Liberation Serif", serif' font-size="15.5" font-style="italic">L</text>
<path d="M252.5 187.55H263.9M252.5 190.95H263.9" stroke="#000" stroke-width="0.85"/>
<text x="268.7" y="193.7" font-family='"Liberation Serif", serif' font-size="16" letter-spacing="0.5">10</text>
<line x1="312.2" y1="148.2" x2="312.2" y2="160.8" stroke="#d62728" stroke-width="1.9"/>
<path d="M309.40 154.50L315.00 151.70L315.00 157.30Z" fill="#d62728" stroke="#d62728" stroke-width="1.28" stroke-linejoin="miter"/>
<text transform="translate(329.8,160.6) scale(1.22,1)" font-family='"Liberation Serif", serif' font-size="15.5" font-style="italic">L</text>
<path d="M345.6 154.45H357.0M345.6 157.85H357.0" stroke="#000" stroke-width="0.85"/>
<text x="361.8" y="160.6" font-family='"Liberation Serif", serif' font-size="16" letter-spacing="0.5">12</text>
<line x1="312.2" y1="164.7" x2="312.2" y2="177.3" stroke="#9467bd" stroke-width="1.9"/>
<path d="M309.40 168.20L315.00 173.80M309.40 173.80L315.00 168.20" stroke="#9467bd" stroke-width="1.92" fill="none"/>
<text transform="translate(329.8,177.1) scale(1.22,1)" font-family='"Liberation Serif", serif' font-size="15.5" font-style="italic">L</text>
<path d="M345.6 170.95H357.0M345.6 174.35H357.0" stroke="#000" stroke-width="0.85"/>
<text x="361.8" y="177.1" font-family='"Liberation Serif", serif' font-size="16" letter-spacing="0.5">20</text>
<text x="-0.8" y="11.3" font-family='"Liberation Sans", sans-serif' font-size="12.5">(a)</text>
<text x="-1.5" y="131.7" font-family='"Liberation Sans", sans-serif' font-size="15">(b)</text>
<text x="-1.0" y="237.7" font-family='"Liberation Sans", sans-serif' font-size="13.3">(c)</text>
<text transform="translate(10.0,94.05) rotate(-90) scale(1.25,1)" font-family='"Liberation Serif", serif' font-size="12.25" text-anchor="middle">1</text>
<line x1="12.2" y1="78.1" x2="12.2" y2="110.9" stroke="#000" stroke-width="0.9"/>
<text transform="translate(22.1,109.3) rotate(-90) scale(1.1,1)" font-family='"Liberation Serif", serif' font-size="12.25" font-style="italic" text-anchor="start">L</text>
<text transform="translate(23.6,101.8) rotate(-90)" font-family='"Liberation Serif", serif' font-size="8.75" font-style="italic" text-anchor="start">x</text>
<text transform="translate(22.1,96.4) rotate(-90) scale(1.1,1)" font-family='"Liberation Serif", serif' font-size="12.25" font-style="italic" text-anchor="start">L</text>
<text transform="translate(24.2,86.6) rotate(-90)" font-family='"Liberation Serif", serif' font-size="8.75" font-style="italic" text-anchor="start">y</text>
<text transform="translate(16.8,73.5) rotate(-90) scale(1.5,1)" font-family='"Liberation Serif", serif' font-size="19.5" text-anchor="start">&#8721;</text>
<text transform="translate(21.5,55.2) rotate(-90)" font-family='"Liberation Serif", serif' font-size="10" font-style="italic" text-anchor="start">i</text>
<text transform="translate(16.2,48.9) rotate(-90) scale(1.22,1)" font-family='"Liberation Serif", serif' font-size="17.5" font-style="italic" text-anchor="start">W</text>
<rect x="10.6" y="22.2" width="8.4" height="8.0" fill="none" stroke="#000" stroke-width="0.9"/>
<text transform="translate(20.8,20.8) rotate(-90)" font-family='"Liberation Serif", serif' font-size="8.5" font-style="italic" text-anchor="start">i</text>
<text transform="translate(22.2,184.2) rotate(-90) scale(0.74,1)" font-family='"Liberation Serif", serif' font-size="20" text-anchor="start">[%]</text>
<text transform="translate(19.3,288.2) rotate(-90)" font-family='"Liberation Serif", serif' font-size="18.5" font-style="italic" text-anchor="start">U</text>
<text transform="translate(22.3,276.4) rotate(-90)" font-family='"Liberation Serif", serif' font-size="12.25" font-style="italic" text-anchor="start">p</text>
<rect x="0" y="0" width="408" height="3.75" fill="#000"/>
</svg></body></html>
